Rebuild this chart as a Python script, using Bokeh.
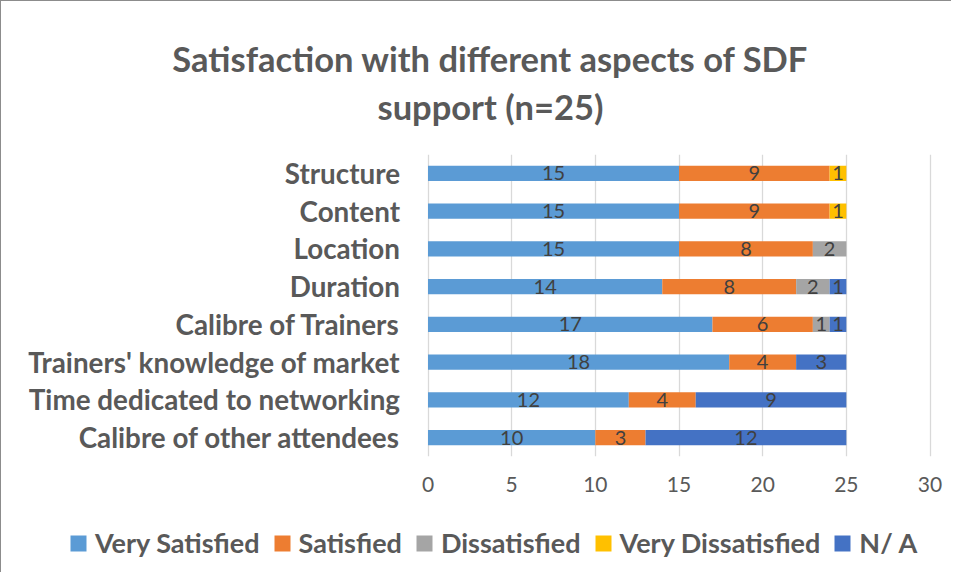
from bokeh.plotting import figure
from bokeh.layouts import column
from bokeh.models import (ColumnDataSource, FactorRange, Range1d, FixedTicker,
                          Title, Legend)
from bokeh.core.properties import value
from bokeh.embed import file_html
from bokeh.resources import INLINE

# ---- data ----
categories = ["Structure", "Content", "Location", "Duration",
              "Calibre of Trainers", "Trainers' knowledge of market",
              "Time dedicated to networking", "Calibre of other attendees"]
series_names = ["Very Satisfied", "Satisfied", "Dissatisfied",
                "Very Dissatisfied", "N/ A"]
very_satisfied = [15, 15, 15, 14, 17, 18, 12, 10]
satisfied = [9, 9, 8, 8, 6, 4, 4, 3]
dissatisfied = [0, 0, 2, 2, 1, 0, 0, 0]
very_dissatisfied = [1, 1, 0, 0, 0, 0, 0, 0]
not_applicable = [0, 0, 0, 1, 1, 3, 9, 12]
x_ticks = [0, 5, 10, 15, 20, 25, 30]
title_lines = ["Satisfaction with different aspects of SDF", "support (n=25)"]

colors = ["#5B9BD5", "#ED7D31", "#A5A5A5", "#FFC000", "#4472C4"]
series = [very_satisfied, satisfied, dissatisfied, very_dissatisfied,
          not_applicable]
keys = ["vs", "s", "d", "vd", "na"]

FONT = "Lato"
TXT = "#595959"
BORDER = "1.5px solid #8c8c8c"

# ---- layout (pixels) ----
W, H_MAIN, H_LEG = 951, 514, 58
FRAME_L, FRAME_R = 27, 951
AXIS0_PX, AXIS30_PX = 426.5, 928.5   # where the value axis 0..30 sits
px_per_unit = (AXIS30_PX - AXIS0_PX) / (x_ticks[-1] - x_ticks[0])
x_start = x_ticks[0] - (AXIS0_PX - FRAME_L) / px_per_unit
x_end = x_ticks[-1] + (FRAME_R - AXIS30_PX) / px_per_unit

data = {"cat": categories}
for k, s in zip(keys, series):
    data[k] = s
source = ColumnDataSource(data)

p = figure(width=W, height=H_MAIN, output_backend="svg", toolbar_location=None,
           y_range=FactorRange(factors=list(reversed(categories))),
           x_range=Range1d(x_start, x_end), y_axis_location=None,
           min_border_left=FRAME_L, min_border_right=W - FRAME_R,
           min_border_top=153, min_border_bottom=59)
p.styles = {"border-left": BORDER, "border-top": BORDER}

renderers = p.hbar_stack(keys, y="cat", height=0.4, color=colors,
                         line_color=None, source=source)

# category labels (right-aligned just left of the value axis origin)
p.text(x=[x_ticks[0]] * len(categories), y=categories, text=categories,
       x_offset=-28, text_align="right", text_baseline="middle",
       text_font=value(FONT), text_font_style="bold",
       text_font_size="27.8px", text_color=TXT)

# data labels
lx, ly, lt = [], [], []
for i, cat in enumerate(categories):
    cum = 0
    for s in series:
        v = s[i]
        if v:
            lx.append(cum + v / 2)
            ly.append(cat)
            lt.append(str(v))
        cum += v
p.text(x=lx, y=ly, text=lt, text_align="center", text_baseline="middle",
       text_font=value(FONT), text_font_size="20px", text_color="#404040")

# x axis
p.xaxis.ticker = FixedTicker(ticks=x_ticks)
p.xaxis.axis_line_color = None
p.xaxis.major_tick_line_color = None
p.xaxis.major_tick_out = 0
p.xaxis.major_tick_in = 0
p.xaxis.minor_tick_line_color = None
p.xaxis.major_label_text_font = FONT
p.xaxis.major_label_text_font_size = "21px"
p.xaxis.major_label_text_color = TXT
p.xaxis.major_label_standoff = 20

p.xgrid.grid_line_color = "#D9D9D9"
p.xgrid.grid_line_width = 1.3
p.ygrid.grid_line_color = None
p.outline_line_color = None

title_style = dict(text_font=FONT, text_font_style="bold",
                   text_font_size="34.5px", text_color=TXT)
if "text_align" in Title.properties():
    p.title = Title(text="\n".join(title_lines), align="center",
                    text_align="center", standoff=55, text_line_height=1.18,
                    **title_style)
else:
    p.title = None
    for txt, so in [(title_lines[1], 30), (title_lines[0], 0)]:
        p.add_layout(Title(text=txt, align="center", standoff=so,
                           **title_style), "above")

# ---- legend strip (separate figure so nothing gets clipped) ----
pl = figure(width=W, height=H_LEG, output_backend="svg", toolbar_location=None,
            x_axis_location=None, y_axis_location=None,
            min_border=0, outline_line_color=None)
pl.styles = {"border-left": BORDER}
pl.xgrid.grid_line_color = None
pl.ygrid.grid_line_color = None
# zero-width proxy bars: they only carry the swatch style for the legend
proxy = ColumnDataSource({"y": [0], "right": [0]})
leg_renderers = [pl.hbar(y="y", right="right", height=0.4, color=c,
                         line_color=None, source=proxy) for c in colors]
legend = Legend(items=[(n, [r]) for n, r in zip(series_names, leg_renderers)],
                orientation="horizontal", location=(40, 13),
                label_text_font=FONT, label_text_font_style="bold",
                label_text_font_size="27px", label_text_color=TXT,
                glyph_width=20, glyph_height=20, label_standoff=7,
                spacing=12, padding=0, margin=0,
                border_line_color=None, background_fill_alpha=0)
pl.add_layout(legend, "center")

layout = column(p, pl, spacing=0)
open("out.html", "w").write(file_html(layout, INLINE))
